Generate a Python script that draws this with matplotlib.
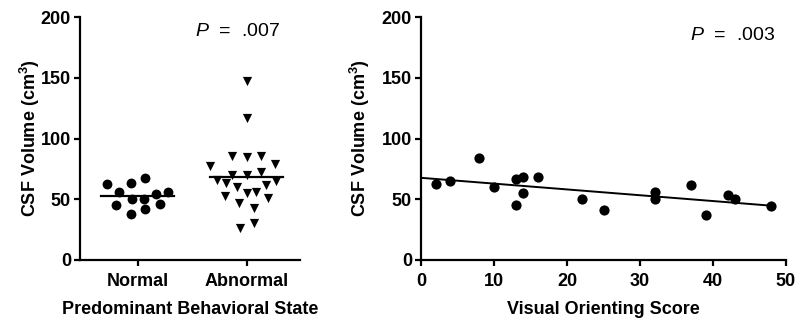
import numpy as np
import matplotlib
matplotlib.use("Agg")
import matplotlib.pyplot as plt

plt.rcParams['font.family'] = ['Liberation Sans', 'DejaVu Sans']
plt.rcParams['mathtext.fontset'] = 'custom'
plt.rcParams['mathtext.rm'] = 'Liberation Sans'
plt.rcParams['mathtext.it'] = 'Liberation Sans:italic'
plt.rcParams['mathtext.bf'] = 'Liberation Sans:bold'

# ---- data ----
categories = ["Normal", "Abnormal"]
normal_vals = [62.3, 55.7, 63.6, 67.2, 45.3, 50.5, 37.9, 50.5, 41.7, 54.1, 45.8, 56.2]
normal_jit = [-0.28, -0.17, -0.06, 0.07, -0.20, -0.05, -0.06, 0.06, 0.07, 0.17, 0.20, 0.28]
abnormal_vals = [77.4, 85.6, 84.5, 85.6, 79.0, 65.8, 63.6, 70.2, 70.2, 72.4, 64.8,
                 60.3, 62.0, 55.4, 56.0, 52.7, 50.8, 46.7, 42.6, 26.1, 30.7, 147.3, 116.6]
abnormal_jit = [-0.34, -0.13, 0.0, 0.13, 0.26, -0.27, -0.19, -0.13, 0.0, 0.13, 0.27,
                -0.09, 0.18, 0.0, 0.09, -0.20, 0.20, -0.07, 0.07, -0.06, 0.07, 0.0, 0.0]
p_left = ".007"
visual_score = [2, 4, 8, 10, 13, 13, 14, 14, 16, 22, 25, 32, 32, 37, 39, 42, 43, 48]
csf_volume = [62.3, 65.3, 83.8, 60.4, 66.7, 45.0, 68.4, 55.0, 68.6, 50.2, 41.2,
              56.3, 50.0, 61.5, 36.8, 53.5, 50.2, 44.5]
p_right = ".003"
y_ticks = [0, 50, 100, 150, 200]
x_ticks_right = [0, 10, 20, 30, 40, 50]

W, H = 799, 325
fig = plt.figure(figsize=(W / 100, H / 100), dpi=100)

ax1 = fig.add_axes([80 / W, 65 / H, 220 / W, 243 / H])
ax2 = fig.add_axes([421 / W, 65 / H, 365 / W, 243 / H])

FS = 13

for ax in (ax1, ax2):
    for s in ('top', 'right'):
        ax.spines[s].set_visible(False)
    for s in ('left', 'bottom'):
        ax.spines[s].set_linewidth(1.6)
    ax.tick_params(direction='out', length=4.5, width=1.6, labelsize=FS, pad=2)
    ax.tick_params(axis='x', pad=4.5)
    ax.set_ylim(0, 200)
    ax.set_yticks(y_ticks)
    ax.set_yticklabels([str(t) for t in y_ticks], fontsize=FS, fontweight='bold')

ax1.set_ylabel("CSF Volume (cm$^\\mathbf{3}$)", fontsize=FS, fontweight='bold')
ax1.yaxis.set_label_coords(-0.172, 0.5)
ax2.set_ylabel("CSF Volume (cm$^\\mathbf{3}$)", fontsize=FS, fontweight='bold')
ax2.yaxis.set_label_coords(-0.135, 0.5)

# Left panel
ax1.set_xlim(-0.53, 1.49)
ax1.scatter(np.array(normal_jit) + 0, normal_vals, s=50, marker='o', color='black', zorder=3, linewidths=0)
ax1.scatter(np.array(abnormal_jit) + 1, abnormal_vals, s=44, marker='v', color='black', zorder=3, linewidths=0)
for i, vals in enumerate([normal_vals, abnormal_vals]):
    m = np.mean(vals)
    ax1.plot([i - 0.335, i + 0.335], [m, m], color='black', lw=1.6, zorder=4)
ax1.set_xticks([0, 1])
ax1.set_xticklabels(categories, fontsize=FS, fontweight='bold')
ax1.set_xlabel("Predominant Behavioral State", fontsize=FS, fontweight='bold', labelpad=8)
ax1.text(195 / W, 1 - 32 / H, "$P$  =  " + p_left, transform=fig.transFigure,
         fontsize=14, va='center', ha='left')

# Right panel
ax2.set_xlim(0, 50)
ax2.set_xticks(x_ticks_right)
ax2.set_xticklabels([str(t) for t in x_ticks_right], fontsize=FS, fontweight='bold')
ax2.scatter(visual_score, csf_volume, s=54, marker='o', color='black', zorder=3, linewidths=0)
slope, intercept = np.polyfit(visual_score, csf_volume, 1)
xx = np.array([0, max(visual_score)])
ax2.plot(xx, slope * xx + intercept, color='black', lw=1.4, zorder=2)
ax2.set_xlabel("Visual Orienting Score", fontsize=FS, fontweight='bold', labelpad=8)
ax2.text(690 / W, 1 - 35 / H, "$P$  =  " + p_right, transform=fig.transFigure,
         fontsize=14, va='center', ha='left')

fig.savefig("out.png", dpi=100)
